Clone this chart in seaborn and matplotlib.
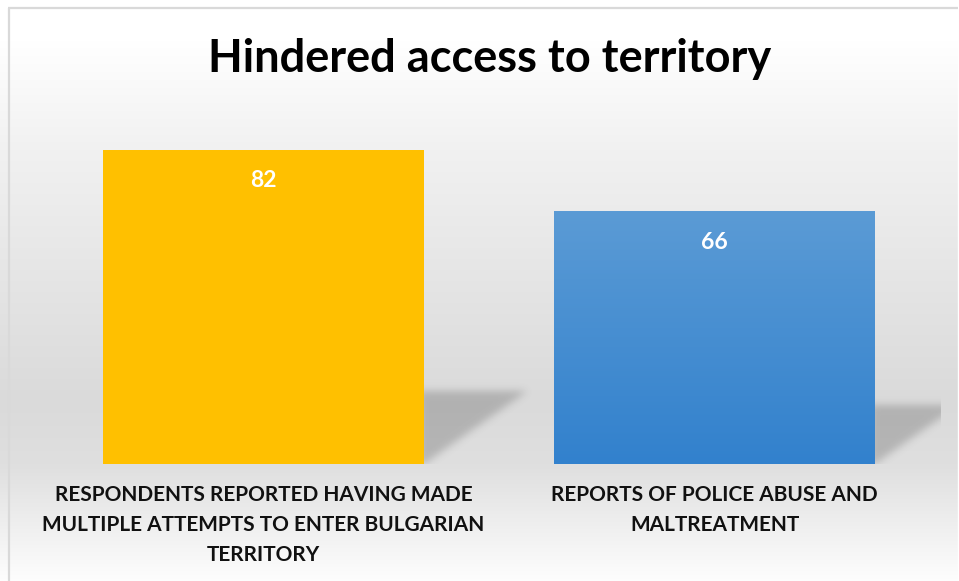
import numpy as np
import pandas as pd
import matplotlib
matplotlib.use("Agg")
import matplotlib.pyplot as plt
import seaborn as sns
from matplotlib.colors import to_rgb

title = "Hindered access to territory"
categories = [
    "RESPONDENTS REPORTED HAVING MADE\nMULTIPLE ATTEMPTS TO ENTER BULGARIAN\nTERRITORY",
    "REPORTS OF POLICE ABUSE AND\nMALTREATMENT",
]
values = [82, 66]
bar_colors = ["#FFC000", "#5B9BD5"]
blue_bottom = "#3281CD"

sns.set_theme(style="white")
plt.rcParams['font.family'] = ['Lato', 'DejaVu Sans']

W, H = 959, 581
fig = plt.figure(figsize=(W / 100, H / 100), dpi=100)

# ---- background gradient ----
bg = fig.add_axes([0, 0, 1, 1], zorder=-10)
rows = np.arange(H)
stops_y = [0, 40, 150, 400, 465, 581]
stops_v = [1.0, 1.0, 0.945, 0.855, 0.875, 0.995]
g = np.interp(rows, stops_y, stops_v)
img = np.stack([g, g, g], axis=1)[:, None, :]
bg.imshow(img, extent=[0, 1, 0, 1], aspect='auto', origin='upper')
bg.axvspan((W - 1) / W, 1, color='white')
bg.plot([8 / W, 958 / W], [1 - 8 / H, 1 - 8 / H], color='#d9d9d9', lw=1.6, solid_capstyle='butt')
bg.plot([9 / W, 9 / W], [0, 1 - 8 / H], color='#d9d9d9', lw=1.6, solid_capstyle='butt')
bg.set_xlim(0, 1); bg.set_ylim(0, 1)
bg.axis('off')

# ---- main axes ----
ax_left, ax_right = 38, 940
ax_bottom, ax_top = 464, 119
ax = fig.add_axes([ax_left / W, (H - ax_bottom) / H, (ax_right - ax_left) / W, (ax_bottom - ax_top) / H])
ax.set_facecolor('none')

df = pd.DataFrame({"cat": categories, "val": values})
sns.barplot(data=df, x="cat", y="val", hue="cat", palette=bar_colors, width=0.71,
            saturation=1, legend=False, ax=ax, edgecolor='none')
ax.set_ylim(0, 90)
ax.set_xlim(-0.5, 1.5)

for p in ax.patches:
    p.set_zorder(3)

# blue gradient
bp = ax.patches[1]
c0 = np.array(to_rgb(bar_colors[1])); c1 = np.array(to_rgb(blue_bottom))
t = np.linspace(0, 1, 200)[:, None]
grad = (c0 * (1 - t) + c1 * t)[:, None, :]
gi = ax.imshow(grad, extent=[bp.get_x(), bp.get_x() + bp.get_width(), 0, bp.get_height()],
               aspect='auto', origin='upper', zorder=3.5)
gi.set_clip_path(bp)

# ---- shadows ----
px_x = (ax_right - ax_left) / 2.0
px_y = (ax_bottom - ax_top) / 90.0

def blur1d(a, sigma, axis):
    r = int(3 * sigma)
    k = np.exp(-0.5 * (np.arange(-r, r + 1) / sigma) ** 2)
    k /= k.sum()
    return np.apply_along_axis(lambda m: np.convolve(m, k, mode='same'), axis, a)

for p in list(ax.patches):
    x1 = p.get_x() + p.get_width()
    h = p.get_height()
    hs = 0.235 * h * px_y
    ws = 1.4 * hs
    pad = 20
    u = np.arange(-pad, ws + pad)
    v = np.arange(-pad, hs + pad)
    U, V = np.meshgrid(u, v)
    mask = ((V >= 0) & (V <= hs) & (U >= -5) & (U <= ws * V / hs)).astype(float)
    mask = blur1d(blur1d(mask, 4.0, 0), 4.0, 1)
    rgba = np.zeros(mask.shape + (4,))
    rgba[..., :3] = 0.25
    rgba[..., 3] = mask * 0.26
    ax.imshow(rgba, origin='lower', aspect='auto', zorder=1,
              extent=[x1 + u[0] / px_x, x1 + u[-1] / px_x, v[0] / px_y, v[-1] / px_y])

ax.set_ylim(0, 90)
ax.set_xlim(-0.5, 1.5)

# value labels
for i, p in enumerate(ax.patches):
    ax.annotate(str(values[i]), (p.get_x() + p.get_width() / 2, p.get_height()),
                xytext=(0, -22.5), textcoords='offset points', ha='center', va='center',
                color='white', fontsize=16.5, fontweight='bold', zorder=5)

ax.set_xticks(range(len(categories)))
ax.set_xticklabels(categories, fontsize=15, fontweight='bold', color='#111111',
                   linespacing=1.62, multialignment='center')
ax.tick_params(axis='x', length=0, pad=15)
ax.set_yticks([])
ax.set_xlabel(''); ax.set_ylabel('')
for s in ax.spines.values():
    s.set_visible(False)

fig.text(490 / W, 1 - 59 / H, title, ha='center', va='center', fontsize=32.5,
         fontweight='bold', color='black')

fig.savefig("out.png", dpi=100)
